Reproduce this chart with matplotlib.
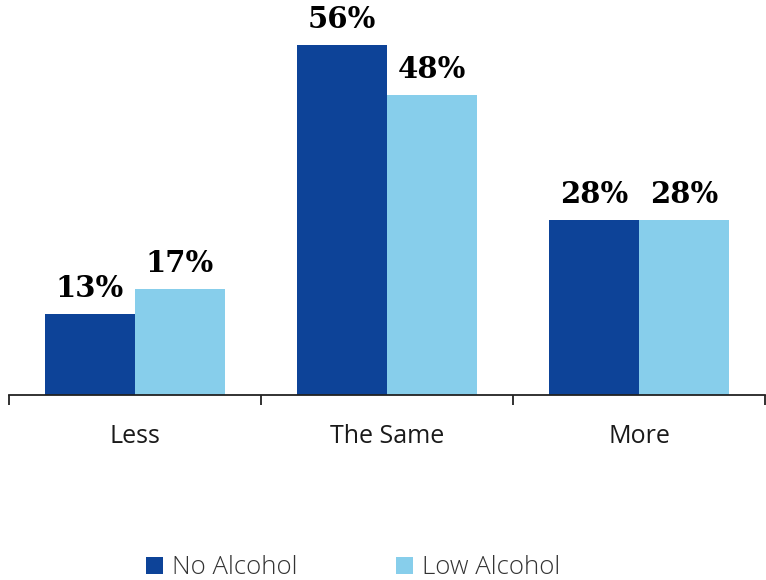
import matplotlib
matplotlib.use("Agg")
import matplotlib.pyplot as plt
from matplotlib.patches import Patch
import numpy as np

categories = ["Less", "The Same", "More"]
series_names = ["No Alcohol", "Low Alcohol"]
no_alcohol = [13, 56, 28]
low_alcohol = [17, 48, 28]
colors = ["#0D4398", "#87CEEB"]

plt.rcParams["font.family"] = ["Open Sans", "DejaVu Sans"]

fig = plt.figure(figsize=(7.66, 5.8), dpi=100)
ax = fig.add_axes([9 / 766, 1 - 395 / 580, 756 / 766, 395 / 580])

x = np.arange(len(categories))
w = 0.357
b1 = ax.bar(x - w / 2, no_alcohol, width=w, color=colors[0])
b2 = ax.bar(x + w / 2, low_alcohol, width=w, color=colors[1])

for bars, vals in ((b1, no_alcohol), (b2, low_alcohol)):
    for rect, v in zip(bars, vals):
        ax.annotate(f"{v}%", (rect.get_x() + rect.get_width() / 2, v),
                    xytext=(0, 8), textcoords="offset points",
                    ha="center", va="bottom", fontsize=21, fontweight="bold",
                    family=["DejaVu Serif"], color="#000000")

ax.set_xlim(-0.5, len(categories) - 0.5)
ax.set_ylim(0, 63.2)
ax.set_yticks([])
for s in ("top", "right", "left"):
    ax.spines[s].set_visible(False)
ax.spines["bottom"].set_linewidth(1.3)
ax.spines["bottom"].set_color("#222222")

ax.set_xticks(x)
ax.set_xticklabels(categories, fontsize=18, color="#1a1a1a")
ax.tick_params(axis="x", which="major", length=0, pad=21)
ax.set_xticks(np.arange(-0.5, len(categories)), minor=True)
ax.tick_params(axis="x", which="minor", length=7.5, width=1.3, color="#222222", direction="out")

handles = [Patch(facecolor=c, edgecolor="none") for c in colors]
leg = fig.legend(handles, series_names, loc="center", bbox_to_anchor=(353 / 766, 1 - 568 / 580),
                 ncol=2, frameon=False, handlelength=0.65, handleheight=0.65,
                 handletextpad=0.35, columnspacing=3.85, borderpad=0,
                 prop={"size": 18.5, "weight": "light"})
for t in leg.get_texts():
    t.set_color("#333333")

fig.savefig("out.png", dpi=100)
